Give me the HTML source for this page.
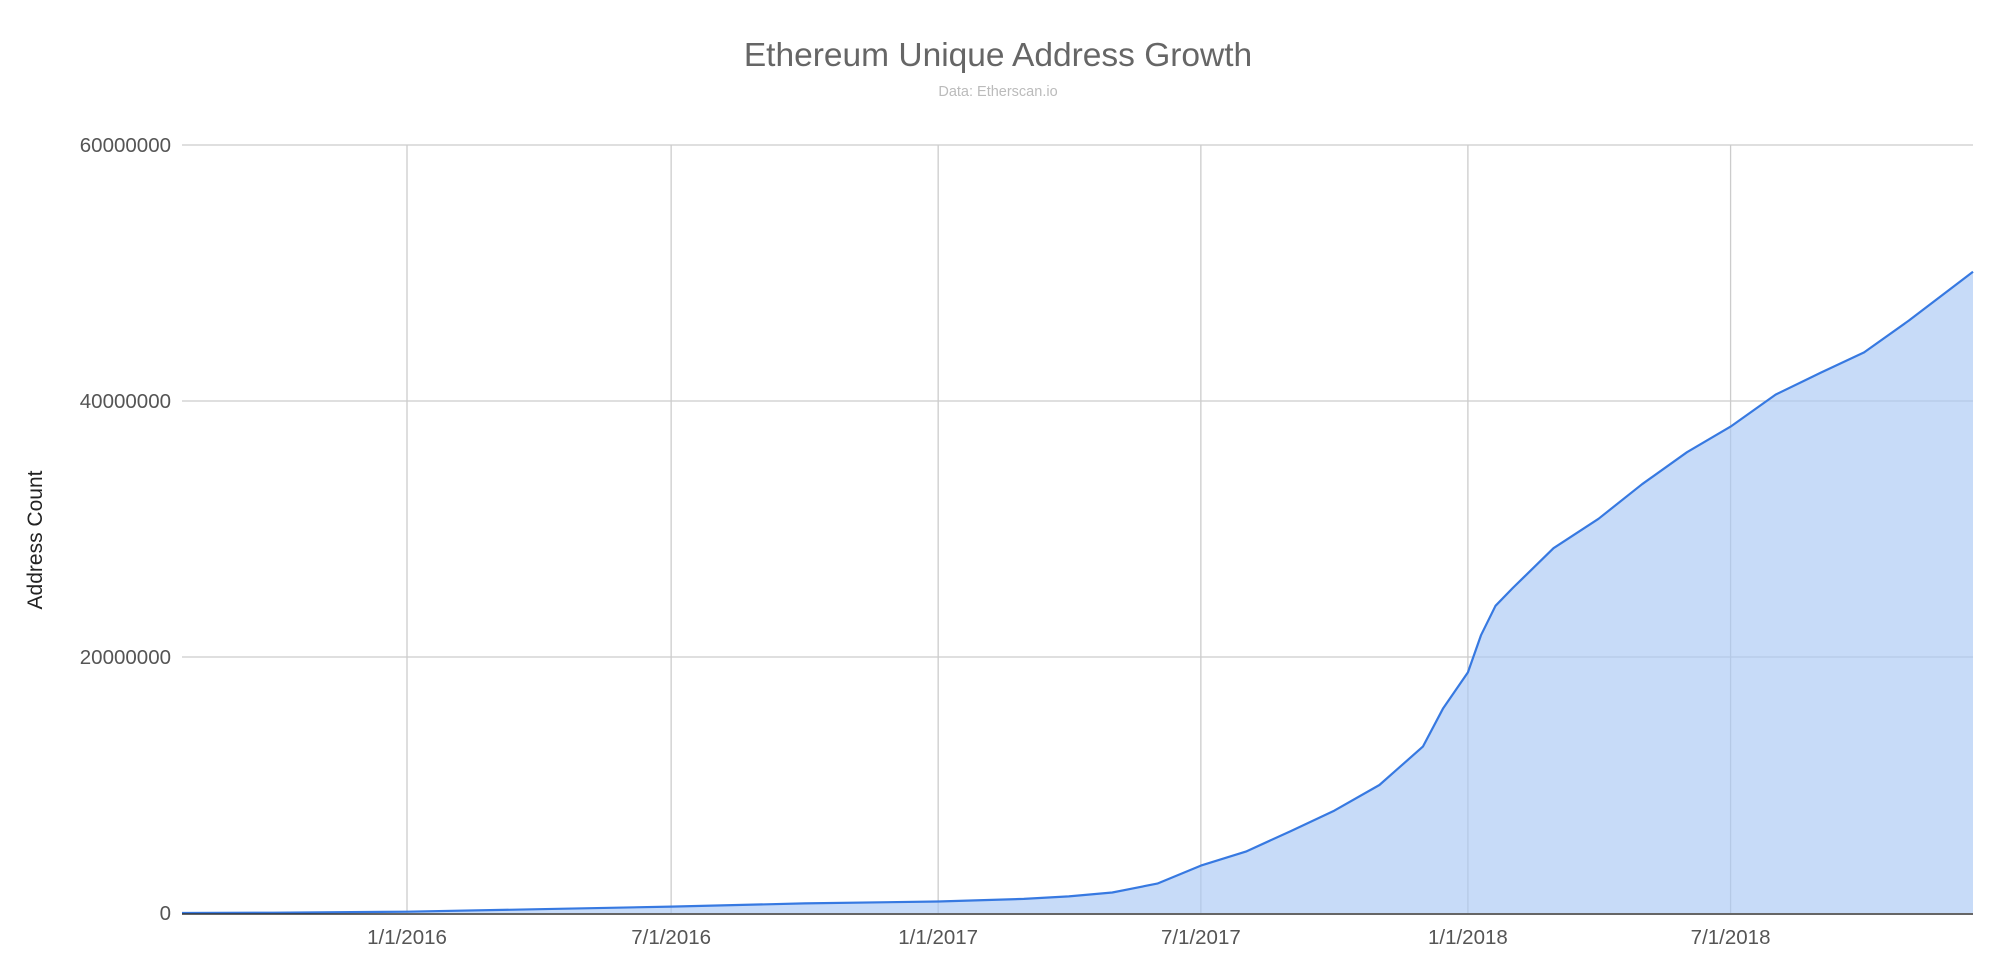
<!DOCTYPE html>
<html><head><meta charset="utf-8">
<style>
html,body{margin:0;padding:0;background:#fff;}
svg{display:block;font-family:"Liberation Sans",sans-serif;}
</style></head>
<body>
<svg id="chart" width="2000" height="962" viewBox="0 0 2000 962" xmlns="http://www.w3.org/2000/svg">
<text x="998" y="66" text-anchor="middle" font-size="33.5" fill="#666">Ethereum Unique Address Growth</text>
<text x="998" y="96" text-anchor="middle" font-size="14.5" fill="#bbb">Data: Etherscan.io</text>
<text transform="translate(42,540) rotate(-90)" text-anchor="middle" font-size="21" fill="#222">Address Count</text>
<g id="grid"></g>
<g id="series"></g>
<g id="axes"></g>
</svg>
<script>
const dates = ["2015-07-30","2015-10-01","2016-01-01","2016-04-01","2016-07-01","2016-10-01","2017-01-01","2017-03-01","2017-04-01","2017-05-01","2017-06-01","2017-07-01","2017-08-01","2017-09-01","2017-10-01","2017-11-01","2017-12-01","2017-12-15","2018-01-01","2018-01-10","2018-01-20","2018-02-01","2018-03-01","2018-04-01","2018-05-01","2018-06-01","2018-07-01","2018-08-01","2018-09-01","2018-10-01","2018-11-01","2018-12-15"];
const values = [0,0.02,0.1,0.3,0.5,0.75,0.9,1.1,1.3,1.6,2.3,3.7,4.8,6.4,8.0,10.0,13.0,16.0,18.8,21.7,24.0,25.4,28.5,30.8,33.5,36.0,38.0,40.5,42.2,43.8,46.3,50.1];
const yTicks = [0,20000000,40000000,60000000];
const yTickLabels = ["0","20000000","40000000","60000000"];
const xTicks = ["2016-01-01","2016-07-01","2017-01-01","2017-07-01","2018-01-01","2018-07-01"];
const xTickLabels = ["1/1/2016","7/1/2016","1/1/2017","7/1/2017","1/1/2018","7/1/2018"];

const NS="http://www.w3.org/2000/svg";
const L=182,R=1973,T=145,B=913;
const ref=Date.UTC(2016,0,1);
function days(s){const p=s.split("-").map(Number);return (Date.UTC(p[0],p[1]-1,p[2])-ref)/86400000;}
function xs(s){return 407+days(s)*1.4513;}
function ys(v){return B-(v/60000000)*(B-T);}
function mk(tag,attrs,parent){const e=document.createElementNS(NS,tag);for(const k in attrs)e.setAttribute(k,attrs[k]);parent.appendChild(e);return e;}
const grid=document.getElementById("grid"),series=document.getElementById("series"),axes=document.getElementById("axes");
yTicks.forEach((v,i)=>{
  if(v>0){const g=mk("line",{x1:L,x2:R,y1:ys(v),y2:ys(v),stroke:"#ccc","stroke-width":1.3},grid);
  
  }
  const t=mk("text",{x:171,y:ys(v)+7,"text-anchor":"end","font-size":20.5,fill:"#555"},axes);
  t.textContent=yTickLabels[i];
  
  
});
xTicks.forEach((d,i)=>{
  const x=xs(d);
  const g=mk("line",{x1:x,x2:x,y1:T,y2:B,stroke:"#ccc","stroke-width":1.3},grid);
  
  
  const t=mk("text",{x:x,y:944,"text-anchor":"middle","font-size":20.5,fill:"#555"},axes);
  t.textContent=xTickLabels[i];
  
  
});
let pts=dates.map((d,i)=>[xs(d),ys(values[i]*1e6)]);
let line=pts.map((p,i)=>(i?"L":"M")+p[0].toFixed(1)+","+p[1].toFixed(1)).join("");
const area=mk("path",{d:line+"L"+pts[pts.length-1][0].toFixed(1)+","+B+"L"+pts[0][0].toFixed(1)+","+B+"Z",fill:"#a9c7f4","fill-opacity":0.65,stroke:"none"},series);


const ln=mk("path",{d:line,fill:"none",stroke:"#3779e1","stroke-width":2.2,"stroke-linejoin":"round"},series);


const base=mk("line",{x1:L,x2:R,y1:B+1,y2:B+1,stroke:"#333","stroke-width":1.5},axes);


</script>
</body></html>
